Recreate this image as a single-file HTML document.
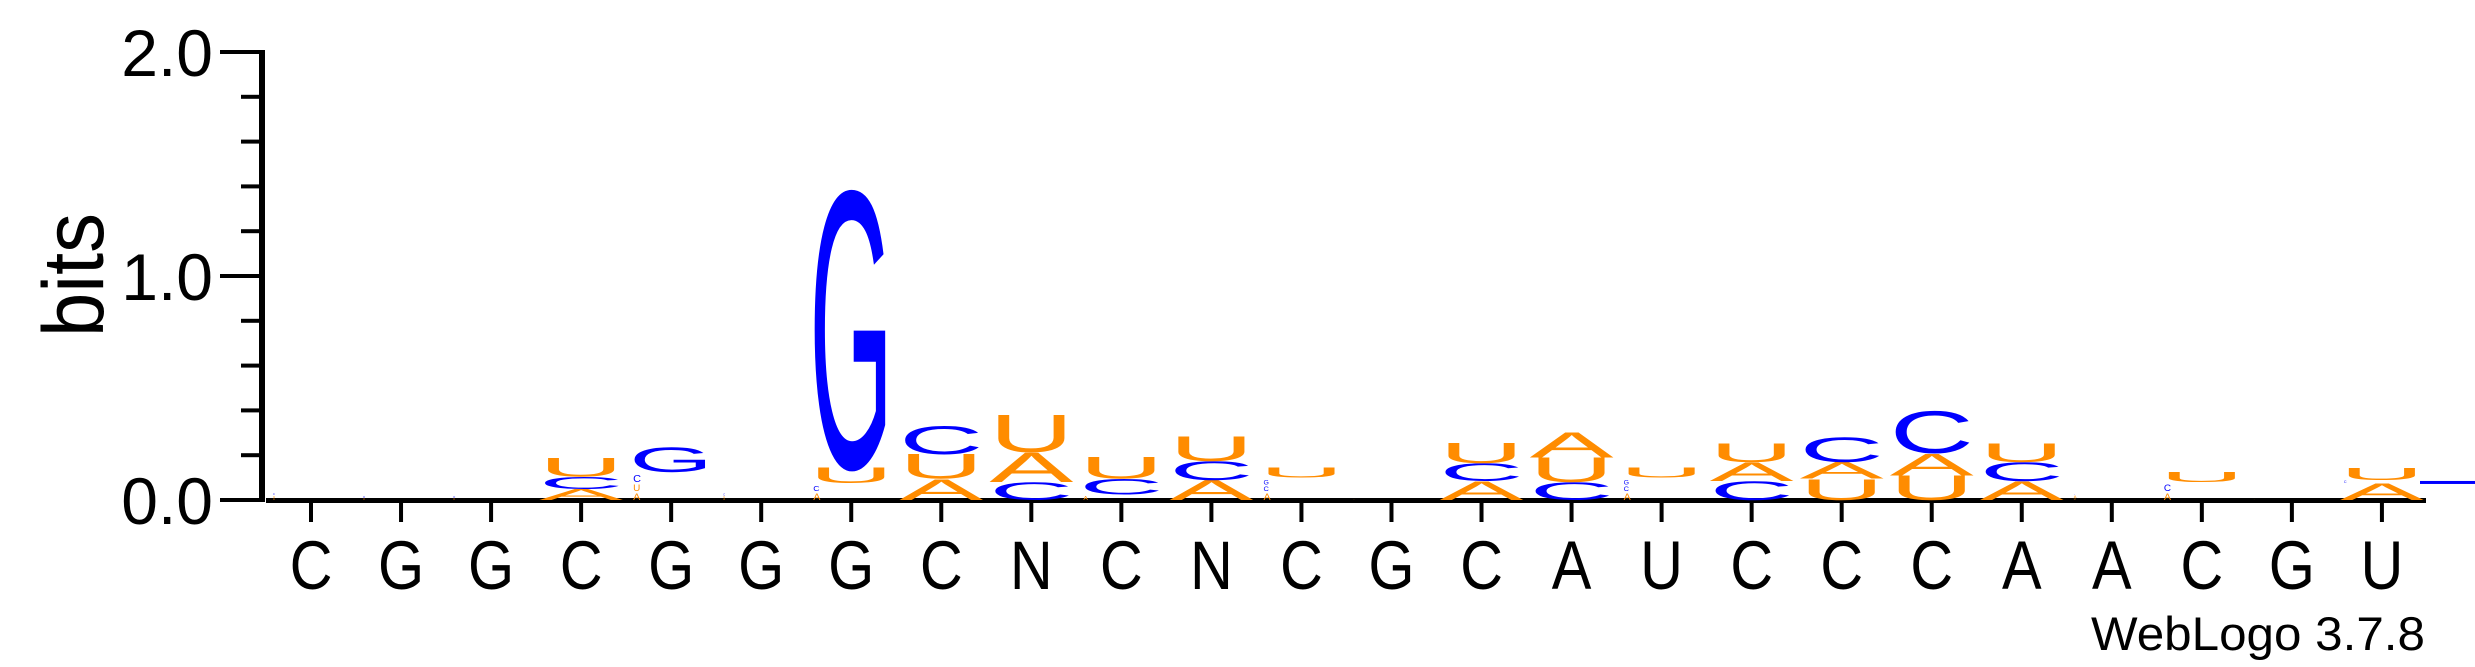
<!DOCTYPE html>
<html><head><meta charset="utf-8"><style>
html,body{margin:0;padding:0;background:#fff;}
svg{display:block;}
text{font-family:"Liberation Sans",sans-serif;}
</style></head><body>
<svg id="logo" width="2475" height="667" viewBox="0 0 2475 667" xmlns="http://www.w3.org/2000/svg">
<g id="yaxis"></g>
<g id="xaxis"></g>
<g id="stacks"></g>
<text x="0" y="0" font-size="86" textLength="124" lengthAdjust="spacingAndGlyphs" text-anchor="middle" transform="translate(103,275) rotate(-90)">bits</text>
<text x="2425" y="650" font-size="47" text-anchor="end" textLength="334" lengthAdjust="spacingAndGlyphs">WebLogo 3.7.8</text>
</svg>
<script>
const labels = ["C","G","G","C","G","G","G","C","N","C","N","C","G","C","A","U","C","C","C","A","A","C","G","U"];
const stackLetters = [
 ["A","U","C"],["U","C"],["U","C"],["A","C","U"],["A","U","C","G"],["A","U","C"],
 ["A","C","U","G"],["A","U","C"],["C","A","U"],["A","C","U"],["A","C","U"],["A","C","G","U"],
 ["U"],["A","C","U"],["C","U","A"],["A","C","G","U"],["C","A","U"],["U","A","C"],
 ["U","A","C"],["A","C","U"],["U","A","C"],["A","C","U"],["A"],["A","C","U"]
];
const stackBits = [
 [0.01,0.012,0.01],[0.01,0.012],[0.01,0.012],[0.05,0.055,0.085],[0.04,0.04,0.044,0.11],[0.01,0.01,0.01],
 [0.04,0.035,0.07,1.257],[0.095,0.11,0.125],[0.08,0.135,0.17],[0.025,0.07,0.1],[0.09,0.085,0.11],[0.04,0.03,0.03,0.047],
 [0.005],[0.085,0.08,0.09],[0.08,0.11,0.115],[0.04,0.03,0.03,0.047],[0.085,0.085,0.085],[0.095,0.075,0.11],
 [0.11,0.1,0.19],[0.085,0.085,0.085],[0.01,0.015,0.005],[0.04,0.04,0.046],[0.005],[0.075,0.015,0.055]
];
const yTicks = [0,0.2,0.4,0.6,0.8,1.0,1.2,1.4,1.6,1.8,2.0];
const yTickLabels = ["0.0","","","","","1.0","","","","","2.0"];

const NS="http://www.w3.org/2000/svg";
const y0=500, bitPx=224, x0=311, dx=90.04, letterW=84, narrowBits=0.045;
const yS=b=>y0-b*bitPx;
const xS=i=>x0+i*dx;
const colors={A:"#ff8c00",U:"#ff8c00",C:"#0000ff",G:"#0000ff"};
function mk(tag,attrs,parent){const e=document.createElementNS(NS,tag);for(const k in attrs)e.setAttribute(k,attrs[k]);parent.appendChild(e);return e;}

const ya=document.getElementById('yaxis');
let l=mk('rect',{x:259,y:yS(2)-2,width:6,height:yS(0)-yS(2)+4,fill:'#000'},ya);


yTicks.forEach((t,i)=>{
  const major=yTickLabels[i]!=="";
  const tk=mk('rect',{x:major?220:241,y:yS(t)-2,width:major?42:21,height:4,fill:'#000'},ya);
  
  
  if(major){
    const tx=mk('text',{x:213,y:yS(t)+24,'font-size':66,'text-anchor':'end'},ya);
    tx.textContent=yTickLabels[i];
    
    
  }
});
const xa=document.getElementById('xaxis');
l=mk('rect',{x:266,y:498,width:2160,height:5,fill:'#000'},xa);


labels.forEach((s,i)=>{
  const tk=mk('rect',{x:xS(i)-2,y:502,width:4,height:20,fill:'#000'},xa);
  
  
  const tx=mk('text',{x:0,y:0,'font-size':69,'text-anchor':'middle',transform:`translate(${xS(i)},589) scale(0.86,1)`},xa);
  tx.textContent=s;
  
  
});
const st=document.getElementById('stacks');
stackLetters.forEach((col,i)=>{
  let cum=0;
  col.forEach((ch,j)=>{
    const b=stackBits[i][j];
    const h=b*bitPx;
    const yb=yS(cum);
    cum+=b;
    if(h<0.5)return;
    const narrow=b<narrowBits;
    const w=narrow?h*0.8:letterW;
    const cx=narrow?xS(i)-38+w/2:xS(i);
    const sy=(narrow?h*0.7:h)/70.8, sx=w/70;
    const t=mk('text',{x:0,y:0,'font-size':100,'text-anchor':'middle',textLength:70,lengthAdjust:'spacingAndGlyphs',fill:colors[ch],transform:`translate(${cx},${yb}) scale(${sx},${sy})`},st);
    t.textContent=ch;
    
    
  });
});
const tail=mk('rect',{x:2420,y:yS(0.085),width:55,height:3,fill:'#0000ff'},st);


</script>
</body></html>
